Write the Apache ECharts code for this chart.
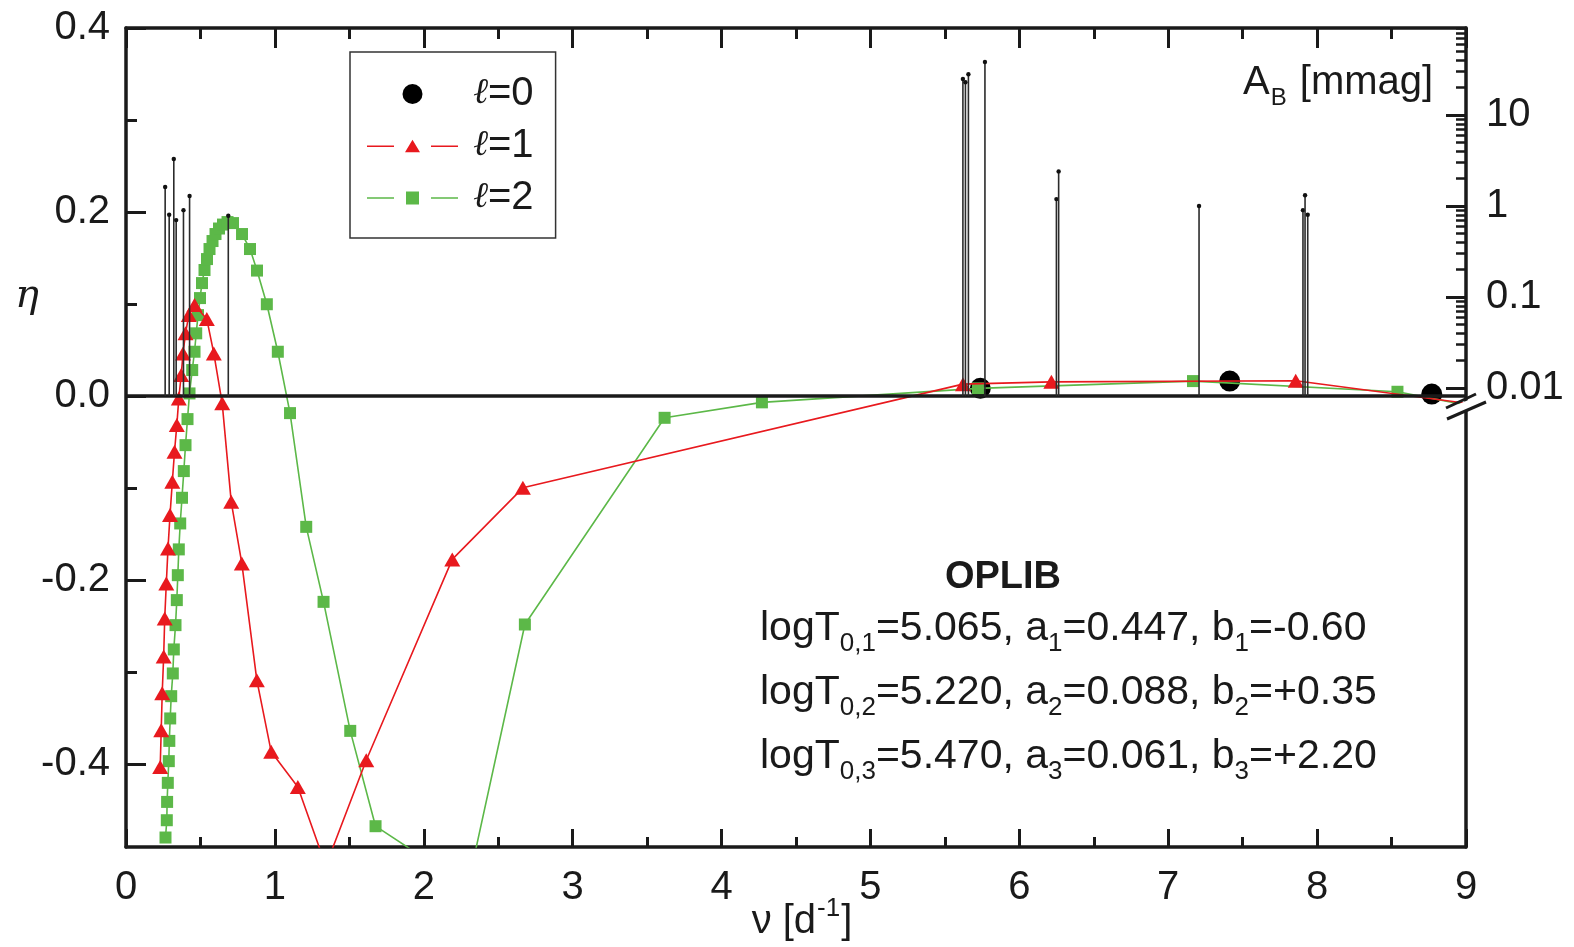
<!DOCTYPE html>
<html><head><meta charset="utf-8">
<script src="https://cdn.jsdelivr.net/npm/echarts@6/dist/echarts.min.js"></script>
<style>html,body{margin:0;padding:0;background:#fff}#c{width:1574px;height:947px}</style>
</head><body><div id="c"></div>
<script>
// ---------------- data ----------------
const l0_nu  = [5.738, 7.413, 8.770];
const l0_eta = [0.0084, 0.0163, 0.0022];

const l1_nu  = [0.2297,0.2365,0.2432,0.2530,0.2600,0.2707,0.2821,0.2956,0.3110,0.3258,0.3413,0.3547,0.3708,0.3829,0.3997,0.4219,0.4602,0.5428,0.5898,0.6462,0.7067,0.7779,0.8787,0.9754,1.1541,1.3422,1.6136,2.1913,2.6656,5.6214,6.2153,7.8564,9.22];
const l1_eta = [-0.403,-0.363,-0.323,-0.283,-0.2416,-0.2036,-0.1655,-0.1293,-0.0932,-0.0605,-0.0315,-0.0025,0.0228,0.0464,0.0682,0.0880,0.0989,0.0837,0.0464,-0.0079,-0.1149,-0.1818,-0.3087,-0.3866,-0.4247,-0.5105,-0.3957,-0.1775,-0.0997,0.0130,0.0155,0.0166,-0.0125];

const l2_nu  = [0.2653,0.2741,0.2761,0.2808,0.2875,0.2909,0.2969,0.3036,0.3144,0.3211,0.3325,0.3413,0.3480,0.3547,0.3641,0.3762,0.3883,0.3997,0.4131,0.4266,0.4447,0.4602,0.4716,0.4837,0.4971,0.5105,0.5273,0.5441,0.5609,0.5811,0.6012,0.6248,0.6516,0.6819,0.7188,0.7793,0.8330,0.8800,0.9459,1.0197,1.1017,1.2105,1.3268,1.5061,1.6761,2.2948,2.6790,3.6175,4.2711,5.7221,7.1665,8.5396,9.22];
const l2_eta = [-0.4797,-0.4609,-0.4410,-0.4203,-0.3967,-0.3747,-0.3503,-0.3261,-0.3014,-0.2753,-0.2489,-0.2217,-0.1946,-0.1666,-0.1384,-0.1105,-0.0815,-0.0533,-0.0250,0.0029,0.0283,0.0482,0.0682,0.0880,0.1065,0.1228,0.1370,0.1489,0.1598,0.1685,0.1761,0.1821,0.1864,0.1891,0.1880,0.1761,0.1598,0.1364,0.0998,0.0482,-0.0185,-0.1421,-0.2236,-0.3638,-0.4674,-0.5330,-0.2482,-0.0236,-0.0068,0.0084,0.0163,0.0047,-0.0166];

const amp_nu   = [0.263,0.290,0.321,0.337,0.386,0.427,0.687,5.621,5.638,5.658,5.769,6.249,6.264,7.207,7.905,7.919,7.937];
const amp_mmag = [1.62,0.80,3.29,0.70,0.90,1.29,0.78,24.9,22.9,28.0,38.2,1.19,2.40,1.00,0.90,1.31,0.80];

const etaTickValues  = [-0.4,-0.2,0,0.2,0.4];
const etaTickLabels  = ['-0.4','-0.2','0.0','0.2','0.4'];
const etaMinorValues = [-0.3,-0.1,0.1,0.3];
const ampTickValues  = [0.01,0.1,1,10];
const ampTickLabels  = ['0.01','0.1','1','10'];
const ampMinorValues = [];
[0.01,0.1,1,10].forEach(d => { for (let k = 2; k <= 9; k++) ampMinorValues.push(Number((k*d).toPrecision(3))); });

const legendNames = ['ℓ=0','ℓ=1','ℓ=2'];
const paramLines = [
  ['0,1','5.065','1','0.447','1','-0.60'],
  ['0,2','5.220','2','0.088','2','+0.35'],
  ['0,3','5.470','3','0.061','3','+2.20']
];

// ---------------- layout constants ----------------
const ETA_MIN = -0.49, ETA_MAX = 0.4;
const AMP_LOG_MIN = -7.044, AMP_LOG_MAX = 1.956;
const AMP_BASE = Math.pow(10, AMP_LOG_MIN + (0 - ETA_MIN) / (ETA_MAX - ETA_MIN) * (AMP_LOG_MAX - AMP_LOG_MIN));
const FONT = "'Liberation Sans', Arial, Helvetica, sans-serif";
const INK = '#1a1a1a';
const RED = '#e8191e', GREEN = '#5cb848';

function pick(vals, labels) {
  return v => { let bi = 0, bd = Infinity; vals.forEach((t, i) => { const d = Math.abs(t - v) / Math.max(Math.abs(t), 1e-3); if (d < bd) { bd = d; bi = i; } }); return labels[bi]; };
}

const chart = echarts.init(document.getElementById('c'), null, {renderer: 'canvas'});

const gridDef = {left: 126, right: 108, top: 28, bottom: 100};

const xBase = {
  type: 'value', min: 0, max: 9, interval: 1,
  splitLine: {show: false},
  axisLine: {show: true, onZero: false, lineStyle: {color: INK, width: 3.5}},
  axisTick: {show: true, inside: true, length: 18, lineStyle: {color: INK, width: 3}},
  minorTick: {show: true, splitNumber: 2, length: 10, lineStyle: {color: INK, width: 3}},
};

const redIcon = 'path://M0,9.25H27V10.75H0Z M45.5,3.5L53,16H38Z M64,9.25H91V10.75H64Z';
const greenIcon = 'path://M0,9.25H27V10.75H0Z M39,3.5H52V16.5H39Z M64,9.25H91V10.75H64Z';

const option = {
  animation: false,
  backgroundColor: '#fff',
  grid: gridDef,
  legend: {
    orient: 'vertical', left: 350, top: 52,
    padding: [22, 22, 20, 17],
    itemWidth: 91, itemHeight: 20, itemGap: 12, itemTextGap: 14,
    borderColor: '#333', borderWidth: 1.5,
    selectedMode: false,
    data: [
      {name: legendNames[0], icon: 'circle', itemStyle: {color: '#000', opacity: 1}},
      {name: legendNames[1], icon: redIcon, itemStyle: {color: RED}},
      {name: legendNames[2], icon: greenIcon, itemStyle: {color: GREEN}}
    ],
    formatter: n => '{l|ℓ}{t|' + n.slice(1) + '}',
    textStyle: {
      fontFamily: FONT, fontSize: 40, color: INK, lineHeight: 40,
      rich: {
        l: {fontFamily: "'DejaVu Serif', serif", fontStyle: 'italic', fontSize: 36, color: INK, lineHeight: 40, padding: [0, 0, 0, 10]},
        t: {fontFamily: FONT, fontSize: 40, color: INK, lineHeight: 40}
      }
    }
  },
  xAxis: [
    Object.assign({}, xBase, {
      position: 'bottom',
      axisLabel: {show: true, margin: 21, fontFamily: FONT, fontSize: 40, color: INK}
    }),
    Object.assign({}, xBase, {
      position: 'top',
      axisTick: {show: true, inside: true, length: 20, lineStyle: {color: INK, width: 3}},
      minorTick: {show: true, splitNumber: 2, length: 11, lineStyle: {color: INK, width: 3}},
      axisLabel: {show: false}
    })
  ],
  yAxis: [
    { // eta, major
      type: 'value', position: 'left', min: ETA_MIN, max: ETA_MAX,
      splitLine: {show: false},
      axisLine: {show: true, onZero: false, lineStyle: {color: INK, width: 3.5}},
      axisTick: {show: true, inside: true, length: 20, customValues: etaTickValues, lineStyle: {color: INK, width: 3}},
      axisLabel: {show: true, margin: 16, customValues: etaTickValues, formatter: pick(etaTickValues, etaTickLabels),
                  fontFamily: FONT, fontSize: 40, color: INK}
    },
    { // amplitude, log, right
      type: 'log', logBase: 10, position: 'right',
      min: Math.pow(10, AMP_LOG_MIN), max: Math.pow(10, AMP_LOG_MAX),
      splitLine: {show: false},
      axisLine: {show: true, onZero: false, lineStyle: {color: INK, width: 3.5}},
      axisTick: {show: true, inside: true, length: 20, customValues: ampTickValues, lineStyle: {color: INK, width: 3}},
      axisLabel: {show: true, margin: 20, customValues: ampTickValues, formatter: pick(ampTickValues, ampTickLabels),
                  fontFamily: FONT, fontSize: 40, color: INK}
    },
    { // eta minor ticks
      type: 'value', position: 'left', min: ETA_MIN, max: ETA_MAX,
      splitLine: {show: false}, axisLine: {show: false, onZero: false},
      axisTick: {show: true, inside: true, length: 11, customValues: etaMinorValues, lineStyle: {color: INK, width: 3}},
      axisLabel: {show: false}
    },
    { // amplitude minor ticks
      type: 'log', logBase: 10, position: 'right',
      min: Math.pow(10, AMP_LOG_MIN), max: Math.pow(10, AMP_LOG_MAX),
      splitLine: {show: false}, axisLine: {show: false, onZero: false},
      axisTick: {show: true, inside: true, length: 10, customValues: ampMinorValues, lineStyle: {color: INK, width: 2.5}},
      axisLabel: {show: false}
    }
  ],
  series: [
    {
      name: legendNames[0], type: 'scatter', xAxisIndex: 0, yAxisIndex: 0,
      symbol: 'circle', symbolSize: 21, itemStyle: {color: '#000', opacity: 1},
      data: l0_nu.map((v, i) => [v, l0_eta[i]]), z: 2,
      markLine: {
        silent: true, symbol: ['none', 'none'], label: {show: false},
        lineStyle: {color: INK, width: 3.5, type: 'solid'},
        data: [{yAxis: 0}]
      }
    },
    {
      name: legendNames[2], type: 'line', xAxisIndex: 0, yAxisIndex: 0,
      symbol: 'rect', symbolSize: 12, showAllSymbol: true,
      itemStyle: {color: GREEN}, lineStyle: {color: GREEN, width: 1.6},
      data: l2_nu.map((v, i) => [v, l2_eta[i]]), z: 3
    },
    {
      name: legendNames[1], type: 'line', xAxisIndex: 0, yAxisIndex: 0,
      symbol: 'triangle', symbolSize: [16, 14], showAllSymbol: true,
      itemStyle: {color: RED}, lineStyle: {color: RED, width: 1.6},
      data: l1_nu.map((v, i) => [v, l1_eta[i]]), z: 4
    },
    {
      name: 'AB', type: 'custom', xAxisIndex: 0, yAxisIndex: 1, z: 5,
      data: amp_nu.map((v, i) => [v, amp_mmag[i]]),
      renderItem: (params, api) => {
        const top = api.coord([api.value(0), api.value(1)]);
        const bot = api.coord([api.value(0), AMP_BASE]);
        return {type: 'group', children: [
          {type: 'line', shape: {x1: top[0], y1: bot[1], x2: top[0], y2: top[1]}, style: {stroke: '#2b2b2b', lineWidth: 1.6}},
          {type: 'circle', shape: {cx: top[0], cy: top[1], r: 2.2}, style: {fill: '#111'}}
        ]};
      }
    }
  ],
  graphic: [
    {type: 'text', x: 27, y: 297, style: {text: 'η', font: "italic 40px 'DejaVu Serif', serif", fill: INK, align: 'center', verticalAlign: 'middle'}},
    {type: 'text', x: 1243, y: 83, style: {
      text: '{m|A}{s|B}{m| [mmag]}', align: 'left', verticalAlign: 'middle', fill: INK,
      rich: {m: {fontFamily: FONT, fontSize: 40, fill: INK}, s: {fontFamily: FONT, fontSize: 24, fill: INK, padding: [30, 2, 0, 1]}}
    }},
    {type: 'text', x: 802, y: 922, style: {
      text: '{m|ν [d}{p|-1}{m|]}', align: 'center', verticalAlign: 'middle', fill: INK,
      rich: {m: {fontFamily: FONT, fontSize: 40, fill: INK}, p: {fontFamily: FONT, fontSize: 26, fill: INK, padding: [0, 1, 26, 1]}}
    }},
    {type: 'text', x: 1003, y: 578, style: {text: 'OPLIB', font: "bold 38px 'Liberation Sans', Arial, sans-serif", fill: INK, align: 'center', verticalAlign: 'middle'}}
  ].concat(paramLines.map((p, i) => ({
    type: 'text', x: 760, y: 629 + i * 64, style: {
      text: '{m|logT}{s|' + p[0] + '}{m|=' + p[1] + ', a}{s|' + p[2] + '}{m|=' + p[3] + ', b}{s|' + p[4] + '}{m|=' + p[5] + '}',
      align: 'left', verticalAlign: 'middle', fill: INK,
      rich: {m: {fontFamily: FONT, fontSize: 41, fill: INK}, s: {fontFamily: FONT, fontSize: 26, fill: INK, padding: [30, 0, 0, 0]}}
    }
  }))).concat([
    {type: 'polygon', shape: {points: [[1447, 409], [1478, 396], [1484, 404], [1449, 419]]}, style: {fill: '#fff'}, z: 100},
    {type: 'line', shape: {x1: 1446, y1: 408, x2: 1476, y2: 394}, style: {stroke: INK, lineWidth: 3}, z: 101},
    {type: 'line', shape: {x1: 1447, y1: 419, x2: 1486, y2: 402}, style: {stroke: INK, lineWidth: 3}, z: 101}
  ])
};

chart.setOption(option);
</script>
</body></html>
